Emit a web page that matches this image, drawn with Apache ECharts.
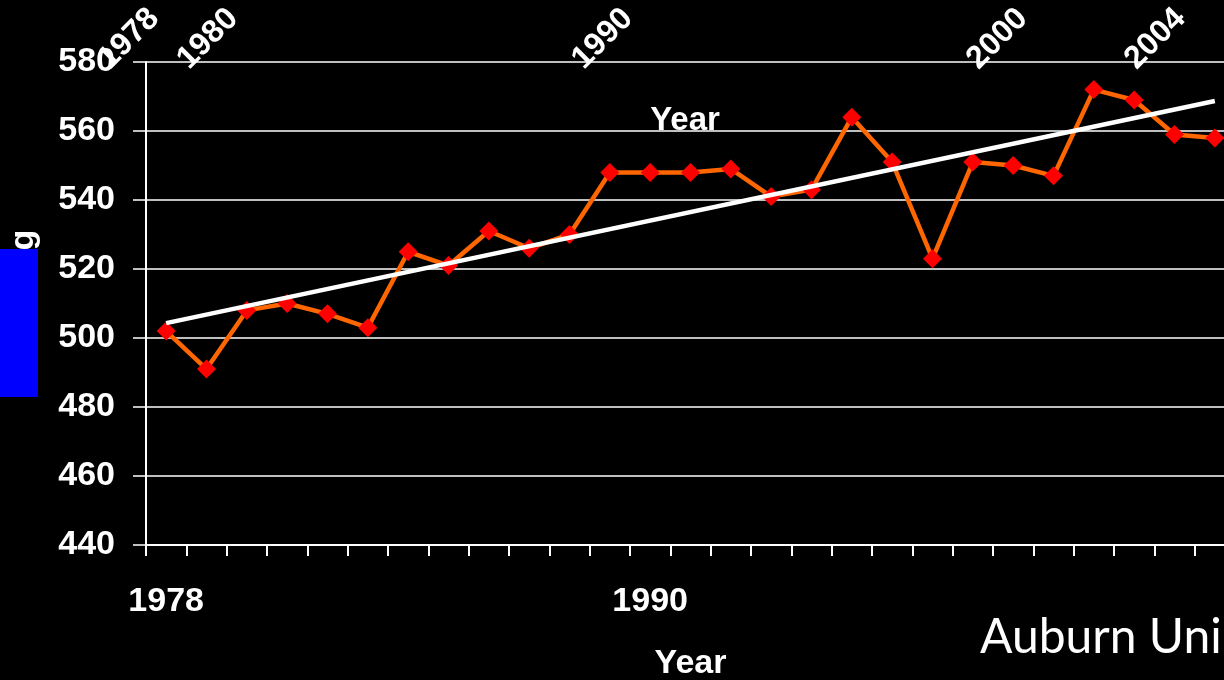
<!DOCTYPE html>
<html>
<head>
<meta charset="utf-8">
<style>
  html, body { margin: 0; padding: 0; background: #000; }
  #chart { width: 1224px; height: 680px; }
</style>
<script src="https://cdn.jsdelivr.net/npm/echarts@6/dist/echarts.min.js"></script>
</head>
<body>
<div id="chart"></div>
<script>
// Yearly scores, 1978-2004
const years = ['1978','1979','1980','1981','1982','1983','1984','1985','1986','1987','1988','1989',
  '1990','1991','1992','1993','1994','1995','1996','1997','1998','1999','2000','2001','2002','2003','2004'];
const scores = [502, 491, 508, 510, 507, 503, 525, 521, 531, 526, 530, 548,
  548, 548, 549, 541, 543, 564, 551, 523, 551, 550, 547, 572, 569, 559, 558];
// Linear trend line: value at the first and last year
const trendYears = ['1978', '2004'];
const trendValues = [504.3, 568.7];
// Labels shown on the axes
const bottomLabels = ['1978', '1990'];
const topLabels = ['1978', '1980', '1990', '2000', '2004'];
const yTicks = { min: 440, max: 580, interval: 20 };

const FONT = "'Liberation Sans', Arial, sans-serif";
const chart = echarts.init(document.getElementById('chart'), null, { renderer: 'canvas' });

chart.setOption({
  backgroundColor: '#000000',
  animation: false,
  grid: [
    { left: 146, top: 62, width: 1089, height: 483, containLabel: false, outerBoundsMode: 'none' },
    { left: 84, top: 64, width: 1066, height: 481, containLabel: false, outerBoundsMode: 'none' }
  ],
  xAxis: [
    {
      type: 'category',
      gridIndex: 0,
      data: years,
      boundaryGap: true,
      name: 'Year',
      nameLocation: 'middle',
      nameGap: 102,
      nameTextStyle: { color: '#fff', fontFamily: FONT, fontWeight: 'bold', fontSize: 34 },
      axisLine: { show: true, lineStyle: { color: '#fff', width: 2 } },
      axisTick: { show: true, alignWithLabel: false, interval: 0, length: 11, lineStyle: { color: '#fff', width: 2 } },
      axisLabel: {
        interval: 0,
        margin: 40,
        color: '#fff',
        fontFamily: FONT,
        fontWeight: 'bold',
        fontSize: 34,
        formatter: v => bottomLabels.includes(v) ? v : ''
      },
      splitLine: { show: false }
    },
    {
      type: 'category',
      gridIndex: 1,
      position: 'top',
      data: years,
      boundaryGap: true,
      axisLine: { show: false },
      axisTick: { show: false },
      axisLabel: {
        interval: 0,
        rotate: 45,
        margin: 0,
        color: '#fff',
        fontFamily: FONT,
        fontWeight: 'bold',
        fontSize: 32,
        formatter: v => topLabels.includes(v) ? v : ''
      },
      splitLine: { show: false }
    }
  ],
  yAxis: [
    {
      type: 'value',
      gridIndex: 0,
      min: yTicks.min,
      max: yTicks.max,
      interval: yTicks.interval,
      axisLine: { show: true, lineStyle: { color: '#fff', width: 2 } },
      axisTick: { show: true, length: 13, lineStyle: { color: '#fff', width: 1.5 } },
      axisLabel: {
        margin: 31,
        color: '#fff',
        fontFamily: FONT,
        fontWeight: 'bold',
        fontSize: 34
      },
      splitLine: { show: true, lineStyle: { color: '#fff', width: 1.5 } }
    },
    {
      type: 'value',
      gridIndex: 1,
      min: 0, max: 1,
      show: false
    }
  ],
  series: [
    {
      type: 'line',
      xAxisIndex: 0,
      yAxisIndex: 0,
      data: scores,
      symbol: 'diamond',
      symbolSize: 19,
      showAllSymbol: true,
      lineStyle: { color: '#ff6600', width: 4.5 },
      itemStyle: { color: '#ff0000', borderWidth: 0 },
      z: 3
    },
    {
      type: 'line',
      xAxisIndex: 0,
      yAxisIndex: 0,
      data: trendYears.map((y, i) => [y, trendValues[i]]),
      symbol: 'none',
      lineStyle: { color: '#ffffff', width: 4.5 },
      z: 4
    }
  ],
  graphic: [
    {
      type: 'text',
      x: 685, y: 121,
      style: { text: 'Year', fill: '#fff', font: "bold 33px 'Liberation Sans', Arial, sans-serif", align: 'center', verticalAlign: 'middle' },
      z: 10
    },
    {
      type: 'text',
      x: 24, y: 240,
      rotation: Math.PI / 2,
      style: { text: 'g', fill: '#fff', font: "bold 34px 'Liberation Sans', Arial, sans-serif", align: 'center', verticalAlign: 'middle' },
      z: 10
    },
    {
      type: 'rect',
      shape: { x: 0, y: 249, width: 38, height: 148 },
      style: { fill: '#0000ff' },
      z: 11
    },
    {
      type: 'text',
      x: 980, y: 638,
      style: { text: 'Auburn Uni', fill: '#fff', font: "48px Lato, 'Open Sans', sans-serif", align: 'left', verticalAlign: 'middle' },
      z: 10
    }
  ]
});
</script>
</body>
</html>
